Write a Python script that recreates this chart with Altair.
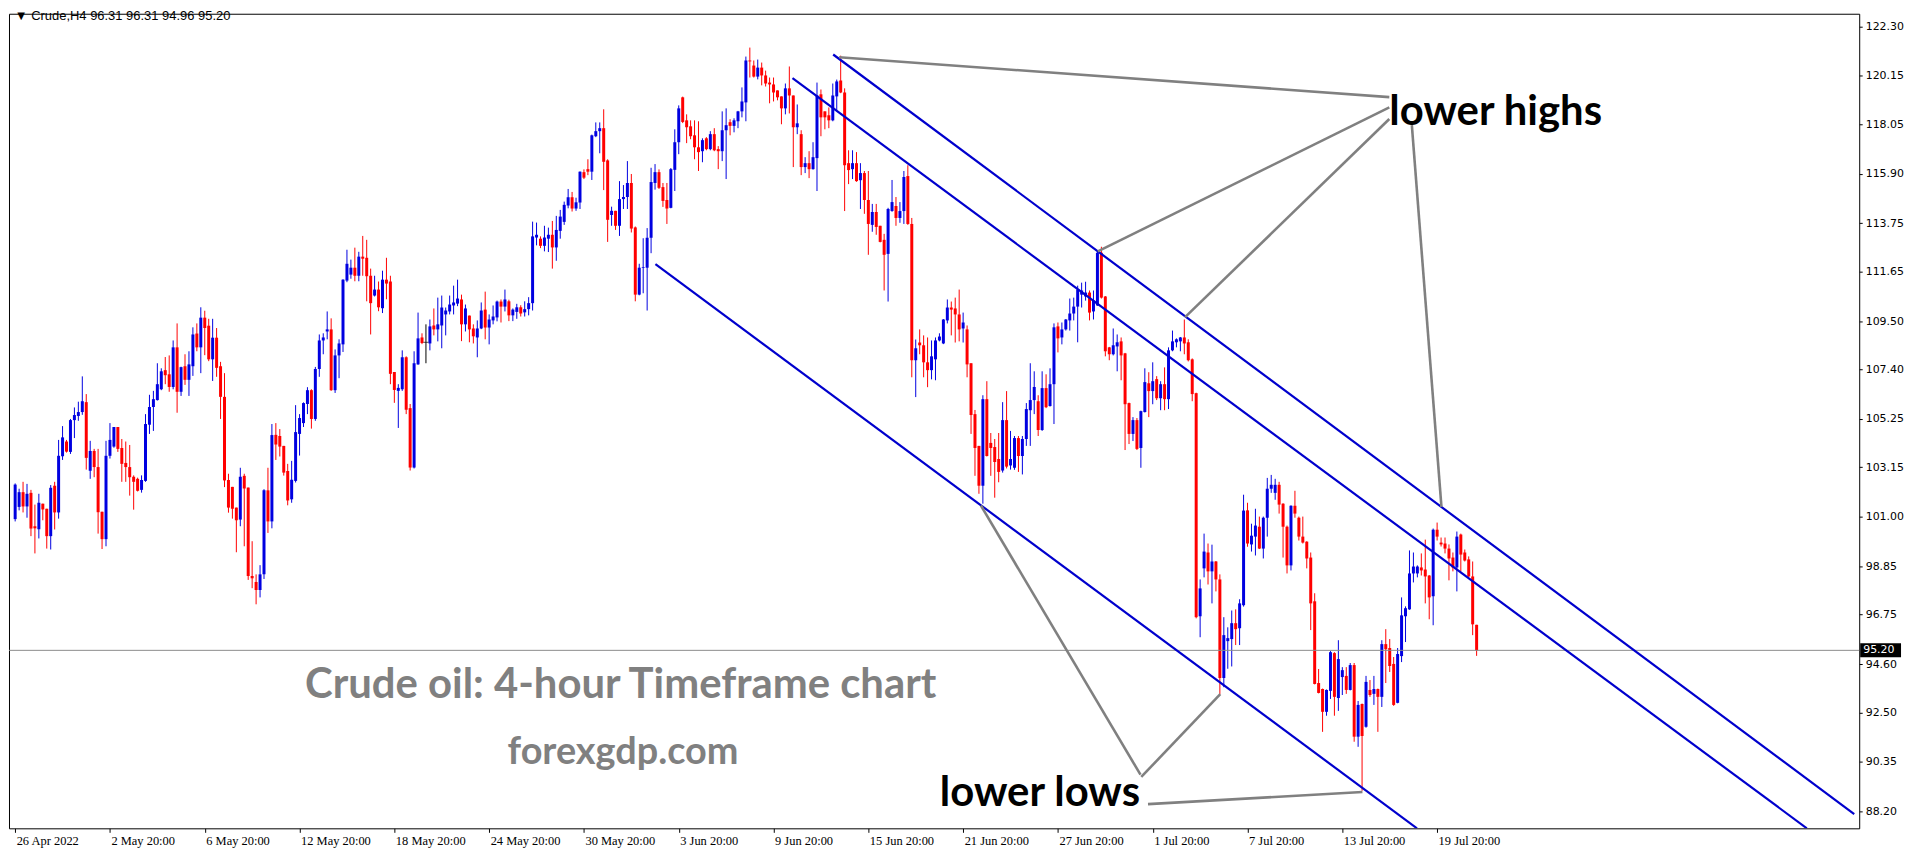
import altair as alt
import pandas as pd

# ---------------- data ----------------
OPEN = [
 100.90,101.43,102.07,101.45,102.04,100.59,100.46,101.57,101.35,100.16,
 102.35,101.19,103.63,104.27,103.82,105.20,105.38,105.55,105.98,103.00,
 103.86,103.16,101.22,100.03,103.65,104.05,104.90,103.99,103.34,103.16,
 102.74,102.65,102.17,102.56,105.00,105.77,106.07,106.54,107.37,107.19,
 106.64,108.36,106.43,107.54,106.95,107.54,108.96,108.36,109.65,109.30,
 107.84,108.78,107.54,106.21,102.60,102.30,101.40,100.88,102.78,102.27,
 98.43,98.17,97.82,98.50,102.15,100.80,104.56,104.51,104.08,102.99,
 101.76,102.56,104.60,105.07,105.90,106.50,105.25,107.42,108.66,109.05,
 109.14,106.50,108.01,108.49,111.26,111.52,111.82,111.47,112.30,112.25,
 111.47,110.61,110.87,110.06,111.30,111.22,107.29,106.47,106.54,107.93,
 105.72,103.14,107.62,108.79,108.58,108.53,109.31,109.14,109.31,109.79,
 109.92,110.18,110.26,110.44,109.36,109.74,109.18,108.79,109.18,110.00,
 109.22,109.53,109.66,110.35,110.13,110.36,109.75,109.90,110.10,109.88,
 110.02,110.28,113.13,113.08,112.77,113.08,113.25,112.70,113.42,113.81,
 114.52,114.88,114.39,114.65,115.97,116.10,115.99,117.53,117.75,117.88,
 116.48,114.11,114.29,113.64,114.80,114.89,115.50,113.57,110.65,111.82,
 111.82,113.12,115.50,115.97,115.32,114.76,114.42,116.07,117.27,119.22,
 118.22,117.96,117.57,117.05,116.88,117.44,116.97,117.62,116.97,116.88,
 117.79,118.14,117.98,118.18,118.61,119.00,120.82,120.60,120.12,120.51,
 120.17,119.86,119.78,119.52,119.26,118.74,119.61,119.30,117.92,117.62,
 116.19,116.36,116.10,116.58,119.35,118.61,118.44,118.22,119.26,119.95,
 119.43,116.36,116.10,116.36,115.62,115.93,114.76,113.68,114.24,113.64,
 113.03,112.42,114.28,114.50,113.98,114.28,115.80,113.72,107.80,108.57,
 108.45,107.71,107.37,107.84,108.66,108.53,109.53,110.09,110.05,109.79,
 109.18,109.14,107.67,105.46,104.08,102.35,106.11,104.21,104.03,103.51,
 103.01,105.20,103.23,103.13,104.42,103.64,104.38,105.63,106.07,106.02,
 104.77,106.59,105.81,106.76,109.27,108.79,109.14,109.53,109.83,110.13,
 110.65,110.57,110.74,109.92,110.18,112.47,110.57,108.36,108.06,108.40,
 108.62,108.10,105.94,104.60,105.20,103.99,105.55,106.80,106.46,106.98,
 106.15,106.76,106.11,108.23,108.58,108.62,108.79,108.58,107.84,106.37,
 96.68,98.76,99.45,98.63,99.06,98.28,94.00,95.60,95.69,96.38,
 96.16,97.16,101.28,99.80,100.14,100.57,99.62,100.96,102.22,102.04,
 102.39,101.57,100.57,98.89,101.48,100.96,100.14,99.92,99.23,97.33,
 93.78,93.52,92.53,93.44,95.08,93.13,94.04,94.09,93.48,94.56,
 91.45,92.87,91.88,93.48,93.31,93.52,93.18,95.47,95.30,94.61,
 92.92,94.95,96.68,96.98,98.54,98.54,98.80,98.71,98.45,97.55,
 100.44,99.88,99.84,99.62,99.23,98.80,100.23,99.45,99.15,98.41,
 96.31]

HIGH = [
 102.45,102.22,102.52,102.43,102.17,101.53,102.00,101.57,101.35,102.38,
 102.52,104.34,104.94,104.34,105.25,105.75,106.00,107.10,106.33,104.30,
 103.95,103.95,101.22,104.30,105.07,104.90,104.90,104.38,104.27,104.12,
 102.80,102.70,102.80,105.46,106.30,106.47,107.67,107.45,107.94,108.01,
 108.66,109.40,107.52,108.06,108.19,109.23,109.40,110.10,109.95,109.60,
 109.60,109.20,107.73,107.24,102.87,102.30,101.40,103.13,102.87,102.27,
 99.94,98.50,98.90,102.20,103.13,105.03,105.07,104.81,104.08,103.30,
 103.43,105.85,105.46,105.97,106.63,106.54,107.51,108.92,108.97,109.92,
 109.62,108.27,108.71,111.32,112.60,112.17,112.69,112.51,113.20,113.03,
 111.78,111.47,111.22,111.69,112.25,111.47,107.29,106.76,108.23,107.97,
 105.90,108.19,109.87,108.97,109.36,109.57,110.05,110.52,110.61,110.09,
 110.61,111.04,111.30,110.65,110.22,109.74,109.36,109.53,110.31,110.78,
 109.79,110.18,110.39,110.44,110.87,110.43,110.05,110.25,110.19,110.36,
 110.54,113.82,113.78,113.18,113.64,113.56,113.85,114.07,114.33,114.69,
 115.24,115.11,114.86,116.00,116.09,116.53,117.60,118.13,118.13,118.70,
 116.53,114.47,114.29,115.58,115.41,116.45,115.89,113.61,111.99,113.10,
 113.54,116.16,116.32,116.09,115.50,115.50,116.15,117.83,118.87,119.25,
 118.48,118.22,118.22,118.18,117.44,117.49,117.75,117.88,117.10,118.61,
 118.74,118.27,118.31,118.63,119.65,120.99,121.38,120.82,120.86,120.73,
 120.38,120.08,120.08,119.52,119.26,119.82,120.56,119.30,118.91,117.79,
 116.62,116.88,117.27,119.86,119.56,118.61,118.78,119.82,119.99,121.03,
 119.61,116.92,116.92,116.84,116.36,116.02,116.02,114.59,114.59,113.64,
 113.29,114.42,115.63,114.89,114.67,116.02,116.27,113.98,108.70,109.14,
 108.88,108.79,108.66,108.79,108.97,109.59,110.44,110.35,110.52,110.87,
 109.87,109.31,107.67,105.64,104.08,106.28,106.89,104.64,104.38,104.64,
 105.98,106.46,104.73,104.51,104.51,104.51,105.94,107.67,107.32,106.28,
 107.32,107.19,107.45,109.40,109.44,109.44,109.59,110.48,110.52,111.04,
 111.17,111.21,110.83,110.83,112.51,112.73,110.59,108.38,109.18,108.92,
 108.79,108.12,105.96,105.33,105.29,105.61,107.45,107.28,107.71,107.11,
 106.89,107.49,108.36,109.09,108.75,108.81,109.57,108.71,107.88,106.39,
 98.28,100.27,99.84,99.79,99.08,98.50,96.64,96.20,96.93,96.98,
 97.42,101.96,101.61,100.70,101.35,101.01,101.01,102.69,102.82,102.65,
 102.52,101.59,100.62,101.50,102.13,101.01,101.01,99.94,99.45,97.68,
 94.39,93.54,93.50,95.17,95.12,95.64,94.47,94.47,94.65,94.65,
 93.00,92.89,94.09,93.91,94.09,93.54,95.64,96.12,95.69,94.91,
 95.30,97.50,97.11,99.54,99.45,98.89,99.41,100.01,98.47,100.49,
 100.75,100.10,100.10,99.80,99.45,100.36,100.27,99.58,99.28,99.06,
 96.31]

LOW = [
 100.80,101.28,101.19,100.96,100.16,99.41,100.06,100.85,99.62,99.58,
 100.45,100.92,103.47,103.79,103.73,104.42,105.17,105.43,103.05,102.65,
 102.72,100.27,99.60,99.72,103.53,104.00,103.82,102.52,102.52,101.92,
 101.31,102.10,102.05,102.52,104.60,104.73,106.05,106.50,106.76,106.43,
 106.54,105.52,106.25,106.73,106.25,107.12,108.19,107.24,108.02,107.76,
 106.90,107.08,105.25,102.29,101.18,100.92,99.46,100.59,99.72,98.26,
 97.90,97.20,97.50,98.30,100.30,100.50,103.47,103.62,102.79,101.50,
 101.61,102.49,103.66,104.90,105.46,104.83,105.17,107.08,108.06,108.71,
 106.47,106.38,107.02,108.16,111.19,111.34,111.23,111.23,111.47,110.36,
 108.92,110.57,109.93,109.85,110.45,106.76,105.95,104.86,106.47,105.46,
 103.01,103.10,107.60,108.50,107.67,108.23,108.88,108.62,108.32,108.88,
 109.79,109.79,110.15,108.63,109.05,108.58,108.53,107.93,109.15,108.71,
 108.49,109.36,109.49,109.44,109.92,109.50,109.50,109.60,109.70,109.70,
 109.75,109.96,112.79,112.67,112.53,112.50,111.78,112.12,113.08,113.68,
 114.40,114.26,114.29,114.37,115.67,115.84,115.63,117.49,116.79,115.19,
 112.94,113.64,113.46,113.20,114.37,114.37,113.35,110.36,110.62,110.71,
 109.96,112.45,115.21,115.24,114.46,113.72,114.40,115.15,116.75,118.10,
 117.23,117.40,116.53,116.02,116.40,116.92,116.92,116.88,116.10,116.45,
 115.67,117.57,117.70,117.88,118.35,118.18,120.08,120.08,120.00,119.74,
 119.69,118.96,119.04,119.09,118.05,118.48,118.52,116.19,117.62,115.84,
 115.93,115.71,116.08,115.15,117.53,117.83,117.88,118.18,118.65,119.40,
 114.28,115.45,115.67,115.55,114.37,114.16,112.38,113.38,113.25,112.92,
 110.83,110.35,114.25,113.64,113.77,113.72,113.68,107.06,106.20,108.06,
 107.06,106.63,106.97,106.93,108.62,108.50,109.40,108.88,108.57,108.62,
 108.57,107.06,104.60,102.78,102.00,101.57,103.62,102.78,101.83,102.50,
 102.92,103.10,103.05,103.04,102.95,102.84,104.08,104.08,105.46,104.51,
 104.73,105.72,105.79,105.03,108.14,108.49,109.09,109.09,109.53,108.58,
 110.09,110.39,109.53,109.57,110.16,110.48,107.97,107.80,108.01,107.32,
 106.93,103.90,104.16,104.29,103.90,103.13,105.53,105.33,105.89,106.07,
 105.63,105.63,105.68,108.19,108.36,108.19,108.06,107.75,106.02,96.59,
 95.77,98.37,98.06,97.24,97.76,93.30,93.60,94.40,94.50,95.43,
 95.43,97.10,99.70,99.49,99.32,99.60,99.19,100.14,102.04,101.74,
 101.14,99.23,98.54,98.67,100.96,99.97,99.84,98.76,96.08,93.72,
 93.33,91.66,92.36,93.09,92.36,92.57,93.26,93.31,93.46,91.23,
 91.01,89.10,91.84,93.18,92.83,91.66,92.74,93.78,94.26,92.79,
 92.90,94.69,95.56,96.96,98.15,98.37,98.45,97.24,96.55,96.29,
 99.97,99.71,99.41,98.24,98.63,97.76,98.63,99.06,98.37,95.86,
 94.96]

CLOSE = [
 102.40,102.07,101.45,102.00,100.49,100.50,101.61,101.32,100.16,102.26,
 101.19,103.65,104.45,103.83,105.20,105.42,105.55,106.02,103.56,103.86,
 103.16,101.20,100.03,103.65,104.34,104.90,103.95,103.30,103.16,102.72,
 102.52,102.13,102.60,105.03,105.77,106.11,106.76,107.32,107.15,106.64,
 108.36,106.43,107.50,106.95,107.62,108.92,108.36,109.65,109.20,107.84,
 108.78,107.47,106.21,102.58,101.40,101.35,100.85,102.74,102.23,98.43,
 98.33,97.82,98.50,102.15,100.80,104.55,104.14,104.05,102.92,101.71,
 102.61,104.68,105.29,105.94,106.50,105.25,107.42,108.66,108.79,109.14,
 106.50,108.01,108.53,111.30,111.99,111.82,111.47,112.30,112.21,111.45,
 110.28,110.87,110.10,111.30,111.13,107.21,106.51,106.60,107.93,105.65,
 103.14,107.67,108.75,108.55,108.58,109.27,109.14,109.36,110.09,109.96,
 110.22,110.31,110.48,109.36,110.05,109.14,108.84,109.18,109.96,109.22,
 109.57,109.70,110.35,110.13,110.44,109.75,110.00,110.10,109.83,110.02,
 110.28,113.18,113.25,112.77,113.13,113.25,112.70,113.46,114.04,114.55,
 114.88,114.39,114.66,115.99,115.73,115.99,117.57,117.75,117.88,116.42,
 113.90,114.29,113.64,114.80,114.89,115.50,113.52,110.65,111.82,111.85,
 113.12,115.54,115.97,115.29,114.72,114.39,116.10,117.27,118.74,118.15,
 117.92,117.53,117.05,116.84,117.36,116.97,117.62,116.92,116.88,117.79,
 118.01,117.98,118.22,118.61,119.04,120.82,120.78,120.12,120.51,120.17,
 119.82,119.78,119.43,119.22,118.74,119.61,119.30,117.92,118.09,116.19,
 116.36,116.10,116.62,119.30,118.35,118.35,118.22,119.30,119.91,119.43,
 116.27,116.06,116.36,115.58,115.93,114.76,113.72,114.24,113.59,112.94,
 112.38,114.37,114.67,113.98,114.28,115.76,113.72,107.80,108.32,108.45,
 107.71,107.37,107.97,108.66,108.83,109.57,110.09,110.00,109.79,109.14,
 109.44,107.62,105.42,103.99,102.35,106.11,103.64,103.99,103.38,102.95,
 105.20,103.18,103.51,104.42,103.64,104.38,105.68,106.07,106.64,104.77,
 106.59,105.76,106.76,109.23,108.75,109.14,109.57,109.83,110.13,110.87,
 110.83,110.74,109.87,110.39,112.47,110.52,108.19,108.06,108.45,108.58,
 108.01,105.89,104.60,105.20,103.95,105.59,106.85,106.46,106.89,106.15,
 106.76,106.11,108.23,108.62,108.71,108.79,108.53,107.80,106.33,96.64,
 97.89,99.49,98.63,99.06,98.28,94.00,95.86,95.73,96.38,96.12,
 97.24,101.27,99.84,100.18,100.62,99.62,100.96,102.22,102.39,102.39,
 101.53,100.57,98.89,101.48,101.14,100.14,99.88,99.19,97.24,93.74,
 93.35,92.53,93.48,95.12,93.18,94.82,94.34,93.48,94.56,91.45,
 92.83,91.48,93.83,93.26,93.52,93.18,95.47,95.25,94.52,92.83,
 95.04,96.72,97.03,98.54,98.84,98.84,98.67,98.41,97.50,100.44,
 100.14,99.80,99.62,99.19,98.80,100.14,99.36,99.10,98.41,96.33,
 95.20]

X_TICKS = list(range(0, 361, 24))
X_LABELS = ["26 Apr 2022", "2 May 20:00", "6 May 20:00", "12 May 20:00", "18 May 20:00",
            "24 May 20:00", "30 May 20:00", "3 Jun 20:00", "9 Jun 20:00", "15 Jun 20:00",
            "21 Jun 20:00", "27 Jun 20:00", "1 Jul 20:00", "7 Jul 20:00", "13 Jul 20:00",
            "19 Jul 20:00"]
Y_TICKS = [122.30, 120.15, 118.05, 115.90, 113.75, 111.65, 109.50, 107.40, 105.25,
           103.15, 101.00, 98.85, 96.75, 94.60, 92.50, 90.35, 88.20]

# channel lines (bar index, price)
CH_X1 = [207.1, 196.8, 162.1]
CH_Y1 = [121.08, 120.05, 111.97]
CH_X2 = [465.6, 453.6, 354.9]
CH_Y2 = [88.09, 87.47, 87.47]

# grey pointer lines (bar index, price)
GR_X1 = [208.6, 274.1, 296.2, 353.6, 244.5, 305.1, 341.1]
GR_Y1 = [120.96, 112.53, 109.67, 118.01, 101.49, 93.30, 89.05]
GR_X2 = [347.9, 347.9, 347.9, 361.1, 284.9, 285.1, 286.8]
GR_Y2 = [119.23, 118.78, 118.28, 101.43, 89.80, 89.70, 88.52]

NOTE_TEXT = ["lower highs", "lower lows"]
NOTE_X = [347.9, 234.1]
NOTE_Y = [118.0, 88.43]

CAPTION_TEXT = ["Crude oil: 4-hour Timeframe chart", "forexgdp.com"]
CAPTION_X = [153.3, 153.9]
CAPTION_Y = [93.12, 90.28]
CAPTION_SIZE = [42, 38]

HEADER_TEXT = ["\u25bc Crude,H4  96.31 96.31 94.96 95.20"]
HEADER_X = [-0.1]
HEADER_Y = [122.58]

LAST_PRICE = 95.20

# ---------------- chart ----------------
W, H = 1858, 818
BLUE = "#0000E0"
RED = "#FF0000"
LINE_BLUE = "#0000CD"
GREY = "#808080"

df = pd.DataFrame({"bar": range(len(CLOSE)), "open": OPEN, "high": HIGH,
                   "low": LOW, "close": CLOSE})
df["high"] = df[["high", "open", "close"]].max(axis=1)
df["low"] = df[["low", "open", "close"]].min(axis=1)
df["dir"] = ["up" if c > o else ("down" if c < o else "doji")
             for o, c in zip(df["open"], df["close"])]

XS = alt.Scale(domain=[-0.3, 465.6], nice=False, zero=False)
YS = alt.Scale(domain=[87.47, 122.85], nice=False, zero=False)
label_expr = "[" + ",".join("'%s'" % s for s in X_LABELS) + "][round(datum.value / 24)]"
XAX = alt.Axis(values=X_TICKS, labelExpr=label_expr, labelAlign="left",
               labelFont="Liberation Sans Narrow", labelFontSize=12.5, tickSize=4,
               labelPadding=2, labelOffset=1, domain=False, grid=False,
               labelOverlap=False, labelFlush=False, tickColor="black",
               labelColor="black", title=None)
YAX = alt.Axis(orient="right", values=Y_TICKS, format=".2f", labelFont="DejaVu Sans",
               labelFontSize=11, tickSize=3, labelPadding=3, domain=False, grid=False,
               labelOverlap=False, labelFlush=False, tickColor="black",
               labelColor="black", title=None)


def X(f):
    return alt.X(f + ":Q", scale=XS, axis=XAX, title=None)


def Y(f):
    return alt.Y(f + ":Q", scale=YS, axis=YAX, title=None)


color = alt.Color("dir:N", scale=alt.Scale(domain=["up", "down", "doji"],
                                           range=[BLUE, RED, "black"]), legend=None)

wicks = alt.Chart(df).mark_rule(strokeWidth=1).encode(
    x=X("bar"), y=Y("low"), y2=alt.Y2("high"), color=color)
bodies = alt.Chart(df[df["dir"] != "doji"]).mark_bar(size=3).encode(
    x=X("bar"), y=Y("open"), y2=alt.Y2("close"), color=color)
doji = alt.Chart(df[df["dir"] == "doji"]).mark_tick(
    orient="horizontal", size=5, thickness=1, color="black").encode(
    x=X("bar"), y=Y("open"))

bid = alt.Chart(pd.DataFrame({"p": [LAST_PRICE]})).mark_rule(
    color="#8C8C8C", strokeWidth=1).encode(y=Y("p"))

ch_df = pd.DataFrame({"x1": CH_X1, "y1": CH_Y1, "x2": CH_X2, "y2": CH_Y2})
channels = alt.Chart(ch_df).mark_rule(color=LINE_BLUE, strokeWidth=2.2, clip=True).encode(
    x=X("x1"), y=Y("y1"), x2=alt.X2("x2"), y2=alt.Y2("y2"))

gr_df = pd.DataFrame({"x1": GR_X1, "y1": GR_Y1, "x2": GR_X2, "y2": GR_Y2})
pointers = alt.Chart(gr_df).mark_rule(color=GREY, strokeWidth=2.6, clip=True).encode(
    x=X("x1"), y=Y("y1"), x2=alt.X2("x2"), y2=alt.Y2("y2"))

notes = alt.Chart(pd.DataFrame({"x": NOTE_X, "y": NOTE_Y, "t": NOTE_TEXT})).mark_text(
    font="Lato", fontWeight="bold", fontSize=42, align="left", baseline="alphabetic",
    color="black").encode(x=X("x"), y=Y("y"), text="t:N")

captions = alt.Chart(pd.DataFrame({"x": CAPTION_X, "y": CAPTION_Y, "t": CAPTION_TEXT,
                                   "s": CAPTION_SIZE})).mark_text(
    font="Lato", fontWeight="bold", align="center", baseline="alphabetic",
    color=GREY).encode(x=X("x"), y=Y("y"), text="t:N",
                       size=alt.Size("s:Q", scale=None, legend=None))

header = alt.Chart(pd.DataFrame({"x": HEADER_X, "y": HEADER_Y, "t": HEADER_TEXT})).mark_text(
    font="Liberation Sans", fontSize=13, align="left", baseline="alphabetic",
    color="black").encode(x=X("x"), y=Y("y"), text="t:N")

price_df = pd.DataFrame({"p": [LAST_PRICE], "t": ["%.2f" % LAST_PRICE]})
price_box = alt.Chart(price_df).mark_rule(color="black", strokeWidth=14).encode(
    x=alt.value(W + 1), x2=alt.value(W + 42), y=Y("p"))
price_txt = alt.Chart(price_df).mark_text(
    color="white", font="DejaVu Sans", fontSize=11, align="left", baseline="middle").encode(
    x=alt.value(W + 4), y=Y("p"), text="t:N")

chart = alt.layer(
    wicks, bodies, doji, bid, channels, pointers, notes, captions, header,
    price_box, price_txt
).properties(width=W, height=H, padding=0, background="white").configure_view(
    stroke="black", strokeWidth=1)

chart.save("out.html", embed_options={"renderer": "svg", "actions": False})
